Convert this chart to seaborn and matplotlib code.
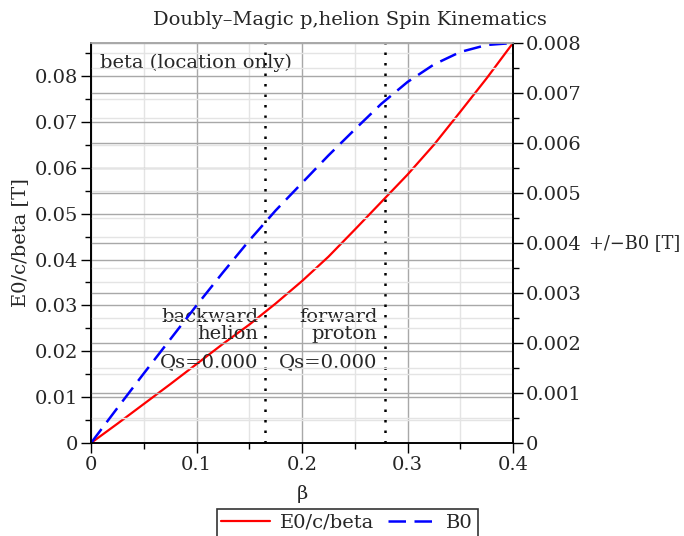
import numpy as np
import pandas as pd
import matplotlib
matplotlib.use("Agg")
import matplotlib.pyplot as plt
import seaborn as sns
from matplotlib.ticker import MultipleLocator, FuncFormatter

sns.set_style("ticks")
plt.rcParams['font.family'] = ['DejaVu Serif']
plt.rcParams['mathtext.default'] = 'regular'

beta = [0.0, 0.025, 0.05, 0.075, 0.1, 0.125, 0.15, 0.175, 0.2, 0.225,
        0.25, 0.275, 0.3, 0.325, 0.35, 0.375, 0.4]
e0_c_beta = [0.0, 0.0042, 0.0085, 0.0128, 0.0172, 0.0216, 0.0258, 0.0304, 0.0353, 0.0406,
             0.0465, 0.0525, 0.0585, 0.0650, 0.0722, 0.0795, 0.0872]
b0 = [0.0, 0.00070, 0.00139, 0.00207, 0.00275, 0.00341, 0.00405, 0.00465, 0.00520, 0.00575,
      0.00627, 0.00678, 0.00722, 0.00757, 0.00782, 0.00796, 0.00800]
markers_beta = [0.1652, 0.2783]
region_labels = ["backward\nhelion", "forward\nproton"]
qs_labels = ["Qs=0.000", "Qs=0.000"]

df = pd.DataFrame({"beta": beta, "E0/c/beta": e0_c_beta, "B0": b0})

FS = 14

fig = plt.figure(figsize=(6.84, 5.36), dpi=100)
ax = fig.add_axes([91/684, 1-443/536, (513-91)/684, (443-43)/536])
ax2 = ax.twinx()

gray = "#a8a8a8"
light = "#e4e4e4"

sns.lineplot(data=df, x="beta", y="E0/c/beta", ax=ax, color="red", lw=1.6, label="E0/c/beta", legend=False)
sns.lineplot(data=df, x="beta", y="B0", ax=ax2, color="blue", lw=1.8, label="B0", legend=False)
ax2.lines[0].set_dashes([7, 3.4])

ax.set_xlim(0, 0.4)
ax.set_ylim(0, 0.0872)
ax2.set_ylim(0, 0.008)

ax.xaxis.set_major_locator(MultipleLocator(0.1))
ax.xaxis.set_minor_locator(MultipleLocator(0.05))
ax.yaxis.set_major_locator(MultipleLocator(0.01))
ax.yaxis.set_minor_locator(MultipleLocator(0.005))
ax2.yaxis.set_major_locator(MultipleLocator(0.001))
ax2.yaxis.set_minor_locator(MultipleLocator(0.0005))

fmt = lambda v, p: "0" if abs(v) < 1e-12 else ("%g" % v)
ax.xaxis.set_major_formatter(FuncFormatter(fmt))
ax.yaxis.set_major_formatter(FuncFormatter(fmt))
ax2.yaxis.set_major_formatter(FuncFormatter(lambda v, p: "0" if abs(v) < 1e-12 else "%.3f" % v))

# grids
ax.grid(which="major", axis="both", color=gray, lw=1.0)
ax.grid(which="minor", axis="both", color=light, lw=1.0)
ax2.grid(which="major", axis="y", color=gray, lw=1.0)
ax2.grid(which="minor", axis="y", color=light, lw=1.0)
ax.set_axisbelow(True)
ax2.set_axisbelow(True)
ax2.patch.set_visible(False)

for a in (ax, ax2):
    a.tick_params(which="major", direction="out", length=7, width=1.0, labelsize=FS, color="black", pad=2)
    a.tick_params(which="minor", direction="out", length=4, width=1.0, color="black")
    for s in a.spines.values():
        s.set_color("black")
        s.set_linewidth(1.2)
    a.spines["top"].set_color(gray)

ax.set_xlabel("β", fontsize=FS, labelpad=8)
ax.set_ylabel("E0/c/beta [T]", fontsize=FS, labelpad=4)
ax2.set_ylabel("")
fig.text(589/684, 1-243/536, "+/−B0 [T]", fontsize=12.8, ha="left", va="center")

fig.text(350/684, 1-20/536, "Doubly\u2013Magic p,helion Spin Kinematics", fontsize=FS,
         ha="center", va="center")

for xb in markers_beta:
    ax.axvline(xb, color="black", ls=(0, (1, 3.2)), lw=1.8, zorder=3)

for xb, lab, q in zip(markers_beta, region_labels, qs_labels):
    ax.text(xb - 0.0066, 0.0256, lab, ha="right", va="center", fontsize=FS, linespacing=0.95, zorder=4)
    ax.text(xb - 0.0066, 0.0177, q, ha="right", va="center", fontsize=FS, zorder=4)

ax.text(0.022, 0.95, "beta (location only)", transform=ax.transAxes, ha="left", va="center", fontsize=FS)

h1, l1 = ax.get_legend_handles_labels()
h2, l2 = ax2.get_legend_handles_labels()
leg = fig.legend(h1 + h2, l1 + l2, loc="upper center", bbox_to_anchor=(347/684, 1-509/536),
                 ncol=2, frameon=True, fontsize=FS, handlelength=2.5, columnspacing=0.7,
                 handletextpad=0.5, borderpad=0.25, borderaxespad=0.0, fancybox=False,
                 edgecolor="black")
leg.get_frame().set_linewidth(1.2)

fig.savefig("out.png", dpi=100)
